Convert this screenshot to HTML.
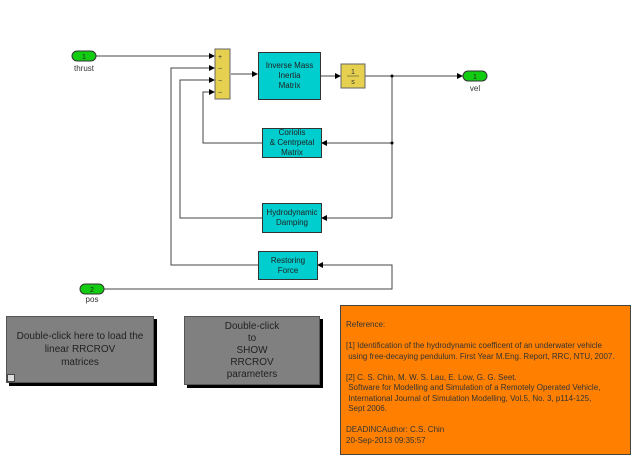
<!DOCTYPE html>
<html><head><style>
body{margin:0;width:640px;height:463px;background:#fff;overflow:hidden;position:relative;font-family:"Liberation Sans",sans-serif}
.b{position:absolute;box-sizing:border-box;display:flex;align-items:center;justify-content:center;text-align:center}
.cy{background:#00cdcd;border:1px solid #333;font-size:8px;line-height:10px;color:#222}
.gr{background:#808080;border:1px solid #555;box-shadow:3px 3px 0 #000;font-size:10px;line-height:13px;color:#222}
</style></head><body>
<svg width="640" height="463" style="position:absolute;left:0;top:0">
<defs><marker id="a" markerWidth="6" markerHeight="6" refX="5" refY="3" orient="auto" markerUnits="userSpaceOnUse"><path d="M0,0L6,3L0,6z" fill="#000"/></marker></defs>
<g fill="none" stroke="#444" stroke-width="1">
<path d="M96,56H214" marker-end="url(#a)"/>
<path d="M231,74H257" marker-end="url(#a)"/>
<path d="M321,76H340" marker-end="url(#a)"/>
<path d="M365,76H462" marker-end="url(#a)"/>
<path d="M392,76V218"/>
<path d="M392,143H322" marker-end="url(#a)"/>
<path d="M392,218H322" marker-end="url(#a)"/>
<path d="M262,143H203V92H214" marker-end="url(#a)"/>
<path d="M262,218H180V80H214" marker-end="url(#a)"/>
<path d="M258,265H171V68H214" marker-end="url(#a)"/>
<path d="M104,289H392V265H318" marker-end="url(#a)"/>
</g>
<circle cx="392" cy="76" r="1.5" fill="#000"/><circle cx="392" cy="143" r="1.5" fill="#000"/>
<rect x="215" y="49" width="15" height="50" fill="#e6d050" stroke="#666"/>
<g font-size="7" fill="#333"><text x="218" y="59">+</text><text x="218" y="71">−</text><text x="218" y="83">−</text><text x="218" y="95">−</text></g>
<rect x="341" y="64" width="24" height="24" fill="#e6d050" stroke="#666"/>
<text x="353" y="74" font-size="7" text-anchor="middle" fill="#333">1</text>
<line x1="347" y1="76" x2="359" y2="76" stroke="#333" stroke-width="0.5"/>
<text x="353" y="84" font-size="7" text-anchor="middle" fill="#333">s</text>
<g fill="#11cc11" stroke="#333"><rect x="72" y="51" width="24" height="10" rx="5"/><rect x="463" y="71" width="24" height="10" rx="5"/><rect x="80" y="284" width="24" height="10" rx="5"/></g>
<g font-size="7" text-anchor="middle" fill="#222"><text x="84" y="59">1</text><text x="475" y="79">1</text><text x="92" y="292">2</text></g>
<g font-size="8" text-anchor="middle" fill="#333"><text x="84" y="71">thrust</text><text x="475" y="91">vel</text><text x="92" y="302">pos</text></g>
</svg>
<div class="b cy" style="left:258px;top:52px;width:63px;height:48px">Inverse Mass<br>Inertia<br>Matrix</div>
<div class="b cy" style="left:262px;top:128px;width:60px;height:30px">Coriolis<br>&amp; Centrpetal<br>Matrix</div>
<div class="b cy" style="left:262px;top:203px;width:60px;height:30px">Hydrodynamic<br>Damping</div>
<div class="b cy" style="left:258px;top:251px;width:60px;height:29px">Restoring<br>Force</div>
<div class="b gr" style="left:6px;top:316px;width:148px;height:67px">Double-click here to load the<br>linear RRCROV<br>matrices</div>
<div style="position:absolute;left:7px;top:374px;width:6px;height:6px;background:#ddd;border:1px solid #444"></div>
<div class="b gr" style="left:184px;top:316px;width:136px;height:69px;line-height:12px">Double-click<br>to<br>SHOW<br>RRCROV<br>parameters</div>
<div style="position:absolute;left:340px;top:305px;width:291px;height:150px;box-sizing:border-box;background:#ff8000;border:1px solid #444;font-size:8px;line-height:10.5px;color:#333;padding:14px 0 0 5px;white-space:pre">Reference:

[1] Identification of the hydrodynamic coefficent of an underwater vehicle
 using free-decaying pendulum. First Year M.Eng. Report, RRC, NTU, 2007.

[2] C. S. Chin, M. W. S. Lau, E. Low, G. G. Seet.
 Software for Modelling and Simulation of a Remotely Operated Vehicle,
 International Journal of Simulation Modelling, Vol.5, No. 3, p114-125,
 Sept 2006.

DEADINCAuthor: C.S. Chin
20-Sep-2013 09:35:57</div>
</body></html>
